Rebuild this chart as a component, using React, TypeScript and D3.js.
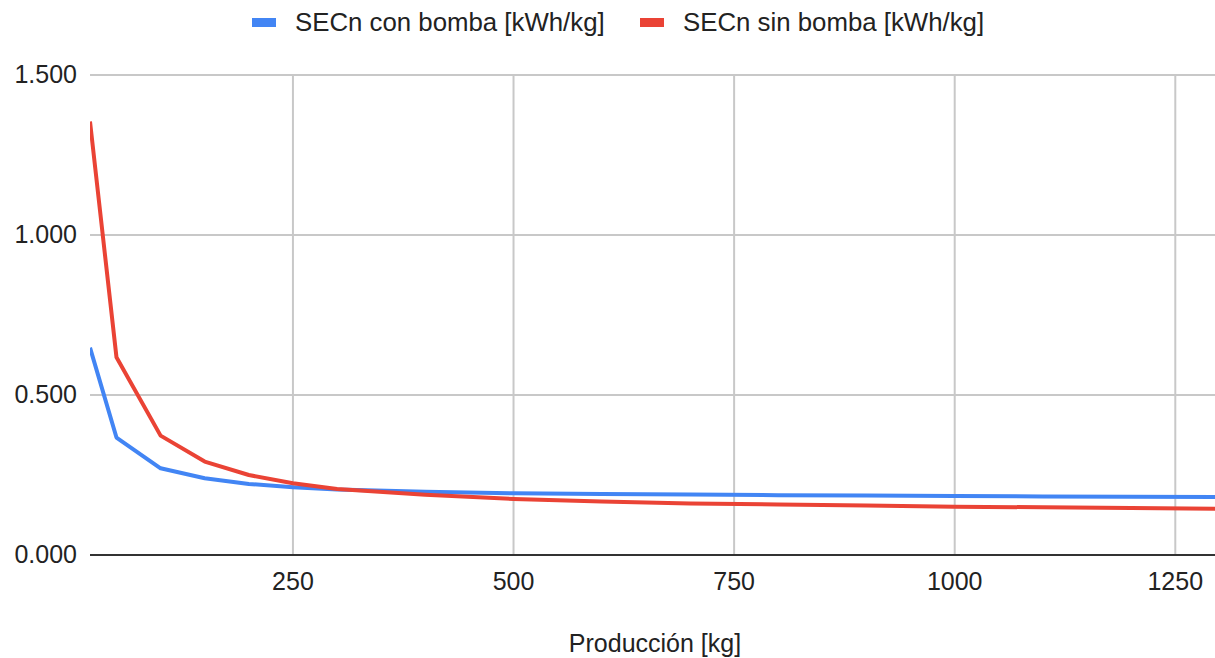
import { useEffect, useRef } from 'react'
import * as d3 from 'd3'

const produccion = [20, 50, 100, 150, 200, 250, 300, 400, 500, 600, 700, 800, 900, 1000, 1100, 1200, 1300]
const secConBomba = [0.648, 0.367, 0.271, 0.24, 0.222, 0.212, 0.205, 0.198, 0.193, 0.191, 0.189, 0.187, 0.186, 0.184, 0.183, 0.182, 0.181]
const secSinBomba = [1.355, 0.618, 0.373, 0.292, 0.25, 0.224, 0.206, 0.188, 0.175, 0.167, 0.161, 0.158, 0.155, 0.151, 0.149, 0.147, 0.144]
const xTicks = [250, 500, 750, 1000, 1250]
const yTicks = [0, 0.5, 1, 1.5]
const seriesNames = ['SECn con bomba [kWh/kg]', 'SECn sin bomba [kWh/kg]']
const COLORS = ['#4285f4', '#ea4335']

const W = 1215
const H = 658
const FONT = '"Liberation Sans", Arial, sans-serif'

export default function App() {
  const ref = useRef<SVGSVGElement | null>(null)

  useEffect(() => {
    if (!ref.current) return
    const svg = d3.select(ref.current)
    svg.selectAll('*').remove()

    const margin = { top: 75, right: 0, bottom: 103, left: 90 }
    const x = d3.scaleLinear().domain([20, 1295]).range([margin.left, W - margin.right])
    const y = d3.scaleLinear().domain([0, 1.5]).range([H - margin.bottom, margin.top])

    svg.append('defs').append('clipPath').attr('id', 'plot-clip')
      .append('rect')
      .attr('x', margin.left)
      .attr('y', 0)
      .attr('width', W - margin.left - margin.right)
      .attr('height', H)

    // gridlines
    svg.append('g')
      .selectAll('line')
      .data(xTicks)
      .join('line')
      .attr('x1', (d) => x(d))
      .attr('x2', (d) => x(d))
      .attr('y1', y(1.5))
      .attr('y2', y(0))
      .attr('stroke', '#c8c8c8')
      .attr('stroke-width', 2)

    svg.append('g')
      .selectAll('line')
      .data(yTicks.filter((d) => d > 0))
      .join('line')
      .attr('x1', margin.left)
      .attr('x2', W - margin.right)
      .attr('y1', (d) => y(d))
      .attr('y2', (d) => y(d))
      .attr('stroke', '#c8c8c8')
      .attr('stroke-width', 2)

    // baseline
    svg.append('line')
      .attr('x1', margin.left)
      .attr('x2', W - margin.right)
      .attr('y1', y(0))
      .attr('y2', y(0))
      .attr('stroke', '#333333')
      .attr('stroke-width', 2)

    // tick labels
    svg.append('g')
      .selectAll('text')
      .data(yTicks)
      .join('text')
      .attr('x', 77)
      .attr('y', (d) => y(d) + 8)
      .attr('text-anchor', 'end')
      .attr('font-family', FONT)
      .attr('font-size', 25)
      .attr('fill', '#222')
      .text((d) => d3.format('.3f')(d))

    svg.append('g')
      .selectAll('text')
      .data(xTicks)
      .join('text')
      .attr('x', (d) => x(d))
      .attr('y', 590)
      .attr('text-anchor', 'middle')
      .attr('font-family', FONT)
      .attr('font-size', 25)
      .attr('fill', '#222')
      .text((d) => d)

    svg.append('text')
      .attr('x', 655)
      .attr('y', 652)
      .attr('text-anchor', 'middle')
      .attr('font-family', FONT)
      .attr('font-size', 25)
      .attr('fill', '#222')
      .text('Producción [kg]')

    // lines
    const series = [secConBomba, secSinBomba]
    const line = d3.line<number>()
      .x((_, i) => x(produccion[i]))
      .y((d) => y(d))

    const lines = svg.append('g').attr('clip-path', 'url(#plot-clip)')
    series.forEach((vals, i) => {
      lines.append('path')
        .datum(vals)
        .attr('d', line)
        .attr('fill', 'none')
        .attr('stroke', COLORS[i])
        .attr('stroke-width', 4)
        .attr('stroke-linejoin', 'round')
    })

    // legend
    const legendX = [252, 640]
    seriesNames.forEach((name, i) => {
      svg.append('rect')
        .attr('x', legendX[i])
        .attr('y', 18)
        .attr('width', 24)
        .attr('height', 9)
        .attr('fill', COLORS[i])
      svg.append('text')
        .attr('x', legendX[i] + 43)
        .attr('y', 31)
        .attr('font-family', FONT)
        .attr('font-size', 25.8)
        .attr('fill', '#222')
        .text(name)
    })
  }, [])

  return (
    <svg
      ref={ref}
      width={W}
      height={H}
      style={{ position: 'absolute', left: 0, top: 0, background: '#fff', display: 'block' }}
    />
  )
}
